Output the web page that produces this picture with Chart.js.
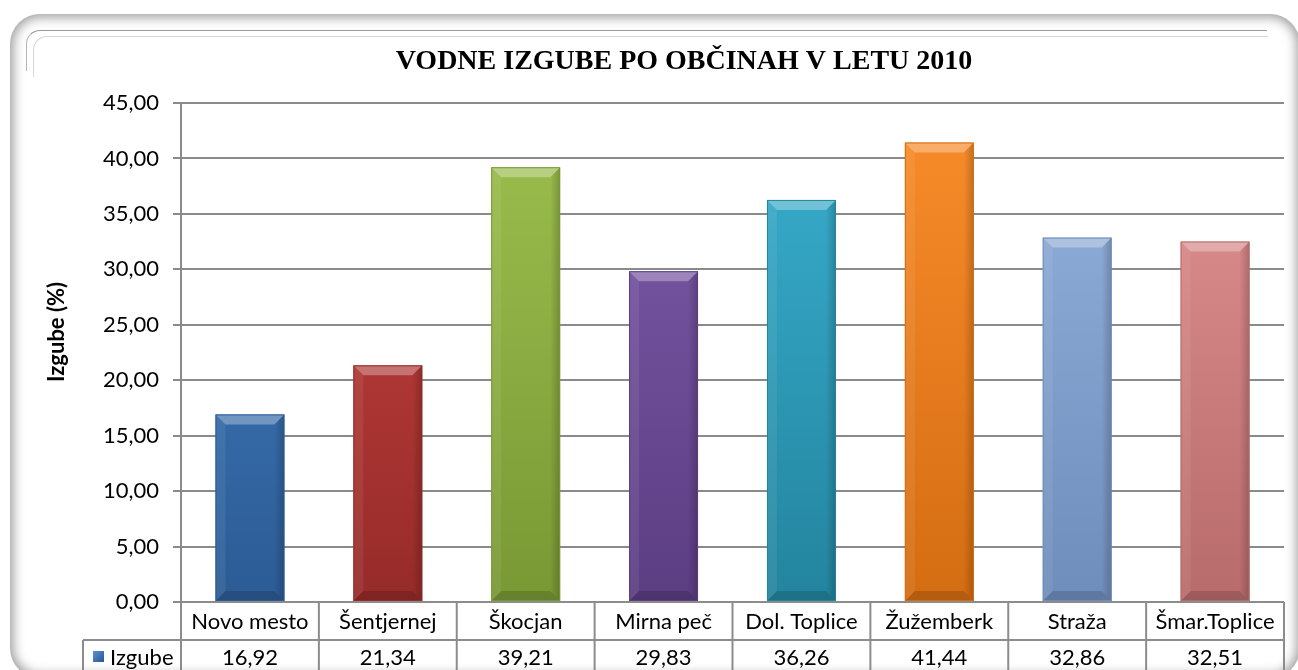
<!DOCTYPE html>
<html lang="sl">
<head>
  <meta charset="UTF-8">
  <title>Vodne izgube po občinah v letu 2010</title>
  <script src="https://cdn.jsdelivr.net/npm/chart.js"></script>
  <style>
    html, body {
      margin: 0;
      padding: 0;
      width: 1298px;
      height: 670px;
      overflow: hidden;
      background: #fff;
    }
    .frame {
      position: absolute;
      left: 10px;
      top: 14px;
      width: 1290px;
      height: 664px;
      border-radius: 30px;
      background: #fff;
      box-shadow: inset 0 0 12px 3px rgba(0, 0, 0, 0.4);
    }
    .inner-line {
      position: absolute;
      border-top: 1px solid #9a9a9a;
      border-left: 1px solid #b5b5b5;
      border-top-left-radius: 14px;
      height: 40px;
    }
    .inner-line.a { left: 26px; top: 30px; width: 1240px; }
    .inner-line.b { left: 33px; top: 36px; width: 1234px; border-color: #d6d6d6; }
    #wrap {
      position: absolute;
      left: 0;
      top: 0;
      width: 1298px;
      height: 670px;
    }
  </style>
</head>
<body>
  <div class="frame"></div>
  <div class="inner-line a"></div>
  <div class="inner-line b"></div>
  <div id="wrap"><canvas id="lossChart" width="1298" height="670"></canvas></div>

  <script>
    const categories = ['Novo mesto', 'Šentjernej', 'Škocjan', 'Mirna peč', 'Dol. Toplice', 'Žužemberk', 'Straža', 'Šmar.Toplice'];
    const losses = [16.92, 21.34, 39.21, 29.83, 36.26, 41.44, 32.86, 32.51];
    const yTicks = [0, 5, 10, 15, 20, 25, 30, 35, 40, 45];
    const seriesName = 'Izgube';
    const chartTitle = 'VODNE IZGUBE PO OBČINAH V LETU 2010';
    const axisTitle = 'Izgube (%)';

    // light / dark tone per bar
    const barTones = [
      ['#4381c6', '#2c5b94'],
      ['#c84340', '#962b29'],
      ['#9dc04f', '#789834'],
      ['#7f5cab', '#5b3d82'],
      ['#39b0d0', '#23849e'],
      ['#f98d2b', '#d46c12'],
      ['#95b3de', '#6f8dba'],
      ['#e29292', '#b86b6b']
    ];

    const fmt = v => v.toFixed(2).replace('.', ',');
    const FONT = 'Lato, "Open Sans", sans-serif';

    const tablePlugin = {
      id: 'tablePlugin',
      afterDraw(chart) {
        const c = chart.ctx;
        const area = chart.chartArea;
        const xs = chart.scales.x;
        const n = categories.length;
        const half = (xs.getPixelForValue(1) - xs.getPixelForValue(0)) / 2;
        const rowTop = area.bottom;
        const rowMid = rowTop + 38;
        const legendLeft = 83;

        c.save();
        c.strokeStyle = '#8c8c8c';
        c.lineWidth = 2;
        c.beginPath();
        // table lines
        c.moveTo(area.left, rowTop); c.lineTo(area.right, rowTop);
        c.moveTo(legendLeft, rowMid); c.lineTo(area.right, rowMid);
        c.moveTo(legendLeft, rowMid); c.lineTo(legendLeft, chart.height);
        for (let i = 0; i <= n; i++) {
          const x = i < n ? xs.getPixelForValue(i) - half : xs.getPixelForValue(n - 1) + half;
          c.moveTo(x, rowTop); c.lineTo(x, chart.height);
        }
        c.stroke();

        c.fillStyle = '#000';
        c.font = '22px ' + FONT;
        c.textAlign = 'center';
        c.textBaseline = 'middle';
        categories.forEach((name, i) => {
          const x = xs.getPixelForValue(i);
          c.fillText(name, x, rowTop + 20);
          c.fillText(fmt(losses[i]), x, rowMid + 18);
        });

        // legend key
        const g = c.createLinearGradient(93, 651, 103, 661);
        g.addColorStop(0, '#5b93d3');
        g.addColorStop(1, '#2c5b94');
        c.fillStyle = g;
        c.fillRect(93, 651, 11, 11);
        c.fillStyle = '#000';
        c.textAlign = 'left';
        c.fillText(seriesName, 110, rowMid + 18);

        // title
        c.font = 'bold 28px "Liberation Serif", "DejaVu Serif", serif';
        c.textAlign = 'center';
        c.textBaseline = 'alphabetic';
        c.fillText(chartTitle, 684, 69);

        // y axis title
        c.translate(57, 332);
        c.rotate(-Math.PI / 2);
        c.font = 'bold 22px ' + FONT;
        c.textBaseline = 'middle';
        c.fillText(axisTitle, 0, 0);
        c.restore();
      }
    };

    const bevelPlugin = {
      id: 'bevelPlugin',
      afterDatasetsDraw(chart) {
        const c = chart.ctx;
        const meta = chart.getDatasetMeta(0);
        c.save();
        meta.data.forEach((bar, i) => {
          const p = bar.getProps(['x', 'y', 'base', 'width'], true);
          const l = p.x - p.width / 2, r = p.x + p.width / 2;
          const t = p.y, b = p.base;
          const bv = 10;
          // top bevel highlight
          c.fillStyle = 'rgba(255,255,255,0.3)';
          c.beginPath();
          c.moveTo(l, t); c.lineTo(r, t); c.lineTo(r - bv, t + bv); c.lineTo(l + bv, t + bv);
          c.closePath(); c.fill();
          // right side shade
          const gr = c.createLinearGradient(r - bv, 0, r, 0);
          gr.addColorStop(0, 'rgba(0,0,0,0)');
          gr.addColorStop(1, 'rgba(0,0,0,0.2)');
          c.fillStyle = gr;
          c.beginPath();
          c.moveTo(r, t); c.lineTo(r, b); c.lineTo(r - bv, b - bv); c.lineTo(r - bv, t + bv);
          c.closePath(); c.fill();
          // left side light
          c.fillStyle = 'rgba(255,255,255,0.07)';
          c.beginPath();
          c.moveTo(l, t); c.lineTo(l + bv, t + bv); c.lineTo(l + bv, b - bv); c.lineTo(l, b);
          c.closePath(); c.fill();
          // bottom bevel
          c.fillStyle = 'rgba(0,0,0,0.15)';
          c.beginPath();
          c.moveTo(l, b); c.lineTo(r, b); c.lineTo(r - bv, b - bv); c.lineTo(l + bv, b - bv);
          c.closePath(); c.fill();
          // outline
          c.strokeStyle = barTones[i][1];
          c.lineWidth = 1;
          c.strokeRect(l + 0.5, t + 0.5, p.width - 1, b - t - 1);
        });
        c.restore();
      }
    };

    const ctx = document.getElementById('lossChart').getContext('2d');

    new Chart(ctx, {
      type: 'bar',
      data: {
        labels: categories,
        datasets: [{
          label: seriesName,
          data: losses,
          backgroundColor: (context) => {
            const chart = context.chart;
            const area = chart.chartArea;
            const tone = barTones[context.dataIndex % barTones.length];
            if (!area) return tone[0];
            const g = chart.ctx.createLinearGradient(0, area.top, 0, area.bottom);
            g.addColorStop(0, tone[0]);
            g.addColorStop(1, tone[1]);
            return g;
          },
          borderWidth: 0,
          barPercentage: 0.5,
          categoryPercentage: 1.0
        }]
      },
      options: {
        responsive: false,
        animation: false,
        layout: { padding: { top: 103, bottom: 68, right: 14, left: 0 } },
        scales: {
          x: {
            display: false
          },
          y: {
            min: 0,
            max: 45,
            afterFit(scale) { scale.width = 181; },
            afterBuildTicks(scale) { scale.ticks = yTicks.map(v => ({ value: v })); },
            ticks: {
              color: '#000',
              padding: 14,
              font: { family: FONT, size: 22 },
              callback: v => fmt(v)
            },
            grid: {
              color: '#8a8a8a',
              lineWidth: 2,
              tickLength: 8
            },
            border: { color: '#8a8a8a', width: 2 }
          }
        },
        plugins: {
          legend: { display: false },
          title: { display: false },
          tooltip: { enabled: false }
        }
      },
      plugins: [tablePlugin, bevelPlugin]
    });
  </script>
</body>
</html>
